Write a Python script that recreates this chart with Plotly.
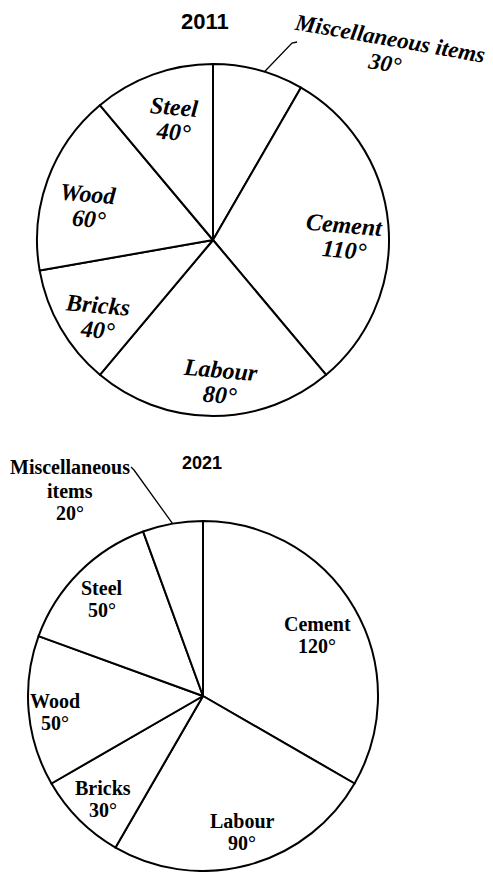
import math
import plotly.graph_objects as go

# ---------------- data ----------------
labels_2011 = ["Miscellaneous items", "Cement", "Labour", "Bricks", "Wood", "Steel"]
degrees_2011 = [30, 110, 80, 40, 60, 40]

labels_2021 = ["Cement", "Labour", "Bricks", "Wood", "Steel", "Miscellaneous items"]
degrees_2021 = [120, 90, 30, 50, 50, 20]

titles = ["2011", "2021"]

# ---------------- layout constants ----------------
W, H = 493, 872
C1, R1 = (213, 240), 176
C2, R2 = (203, 696), 175

# label placement tweaks (angle nudge deg, radial fraction) per slice
pos_2011 = {"Cement": (4, 0.75), "Labour": (-3, 0.81), "Bricks": (-4, 0.79),
            "Wood": (-5, 0.73), "Steel": (2, 0.72)}
pos_2021 = {"Cement": (2, 0.74), "Labour": (-1, 0.81), "Bricks": (-1, 0.82),
            "Wood": (-1, 0.85), "Steel": (-1, 0.80)}


def px(x):
    return x / W


def py(y):
    return 1 - y / H


def domain(c, r):
    cx, cy = c
    return dict(x=[(cx - r) / W, (cx + r) / W], y=[(H - cy - r) / H, (H - cy + r) / H])


def mid_angles(vals):
    out, acc = [], 0
    for v in vals:
        out.append(acc + v / 2)
        acc += v
    return out


def polar(c, r, ang):
    a = math.radians(ang)
    return c[0] + r * math.sin(a), c[1] - r * math.cos(a)


fig = go.Figure()
for lab, vals, c, r in [(labels_2011, degrees_2011, C1, R1), (labels_2021, degrees_2021, C2, R2)]:
    fig.add_trace(go.Pie(
        labels=lab, values=vals, sort=False, direction="clockwise", rotation=0,
        textinfo="none", hoverinfo="label+value",
        marker=dict(colors=["white"] * len(vals), line=dict(color="black", width=2)),
        domain=domain(c, r), showlegend=False,
    ))

ann = []
serif = "Liberation Serif, Times New Roman, serif"

# 2011 labels (bold italic, slightly tilted)
for lab, val, m in zip(labels_2011, degrees_2011, mid_angles(degrees_2011)):
    if lab not in pos_2011:
        continue
    da, f = pos_2011[lab]
    x, y = polar(C1, R1 * f, m + da)
    for txt, dy in [(lab, -12.5), (f"{val}°", 12.5)]:
        ann.append(dict(x=px(x), y=py(y + dy), xref="paper", yref="paper",
                        text=f"<b><i>{txt}</i></b>", showarrow=False, textangle=5,
                        xanchor="center", yanchor="middle",
                        font=dict(family=serif, size=24, color="black")))

# 2021 labels (bold)
for lab, val, m in zip(labels_2021, degrees_2021, mid_angles(degrees_2021)):
    if lab not in pos_2021:
        continue
    da, f = pos_2021[lab]
    x, y = polar(C2, R2 * f, m + da)
    for txt, dy in [(lab, -11), (f"{val}°", 11)]:
        ann.append(dict(x=px(x), y=py(y + dy), xref="paper", yref="paper",
                        text=f"<b>{txt}</b>", showarrow=False,
                        xanchor="center", yanchor="middle",
                        font=dict(family=serif, size=20, color="black")))

# Miscellaneous labels (outside, with leader lines)
misc1_val = degrees_2011[labels_2011.index("Miscellaneous items")]
ann.append(dict(x=px(389), y=py(39), xref="paper", yref="paper",
                text="<b><i>Miscellaneous items</i></b>", showarrow=False, textangle=10,
                xanchor="center", yanchor="middle",
                font=dict(family=serif, size=23, color="black")))
ann.append(dict(x=px(385), y=py(63), xref="paper", yref="paper",
                text=f"<b><i>{misc1_val}°</i></b>", showarrow=False, textangle=10,
                xanchor="center", yanchor="middle",
                font=dict(family=serif, size=23, color="black")))

misc2_val = degrees_2021[labels_2021.index("Miscellaneous items")]
for txt, yy in [("Miscellaneous", 467), ("items", 491), (f"{misc2_val}°", 513)]:
    ann.append(dict(x=px(70), y=py(yy), xref="paper", yref="paper",
                    text=f"<b>{txt}</b>", showarrow=False,
                    xanchor="center", yanchor="middle",
                    font=dict(family=serif, size=20, color="black")))

# titles
ann.append(dict(x=px(205), y=py(21), xref="paper", yref="paper", text=f"<b>{titles[0]}</b>",
                showarrow=False, xanchor="center", yanchor="middle",
                font=dict(family="Liberation Sans, Arial, sans-serif", size=22, color="black")))
ann.append(dict(x=px(202), y=py(463), xref="paper", yref="paper", text=f"<b>{titles[1]}</b>",
                showarrow=False, xanchor="center", yanchor="middle",
                font=dict(family="Liberation Sans, Arial, sans-serif", size=18, color="black")))

# leader lines from rim of misc slices
shapes = []
m1 = mid_angles(degrees_2011)[labels_2011.index("Miscellaneous items")]
rx, ry = polar(C1, R1, m1 + 2)
shapes.append(dict(type="path", xref="paper", yref="paper",
                   path=f"M {px(rx)} {py(ry)} L {px(292)} {py(43)} L {px(297)} {py(42)}",
                   line=dict(color="black", width=1.3)))
m2 = mid_angles(degrees_2021)[labels_2021.index("Miscellaneous items")]
rx, ry = polar(C2, R2, m2)
shapes.append(dict(type="path", xref="paper", yref="paper",
                   path=f"M {px(rx)} {py(ry)} L {px(134)} {py(470)} L {px(131)} {py(467)}",
                   line=dict(color="black", width=1.3)))

fig.update_layout(width=W, height=H, margin=dict(l=0, r=0, t=0, b=0),
                  paper_bgcolor="white", plot_bgcolor="white",
                  annotations=ann, shapes=shapes)

fig.write_html("out.html", config={"displayModeBar": False},
               post_script="document.body.style.margin='0';document.body.style.overflow='hidden';")
